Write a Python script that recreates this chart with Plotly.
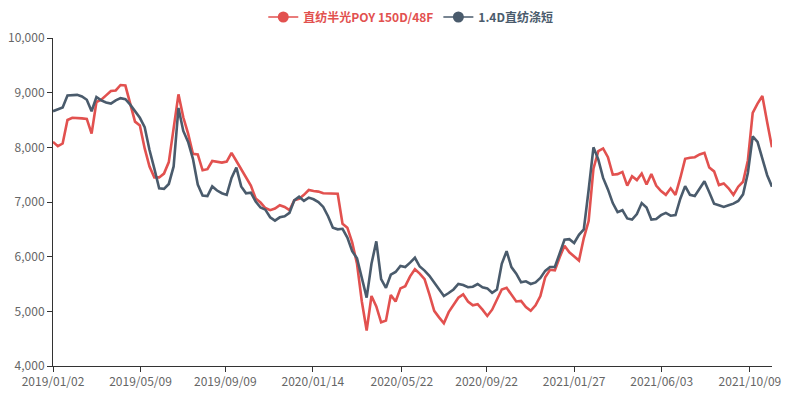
import pandas as pd
import plotly.graph_objects as go

# Category dates (weekly samples from 2019/01/02)
dates = pd.date_range(start="2019-01-02", periods=150, freq="7D").strftime("%Y-%m-%d").tolist()

series_poy_name = "直纺半光POY 150D/48F"
series_psf_name = "1.4D直纺涤短"

poy_values = [
    8100, 8020, 8070, 8500, 8540, 8540, 8530, 8520, 8250, 8830,
    8870, 8950, 9030, 9040, 9140, 9130, 8800, 8470, 8400, 7980,
    7650, 7450, 7450, 7520, 7730, 8400, 8970, 8550, 8250, 7880,
    7870, 7580, 7600, 7750, 7740, 7720, 7740, 7900, 7750, 7600,
    7440, 7300, 7065, 6990, 6890, 6850, 6880, 6940, 6910, 6850,
    7030, 7060, 7130, 7220, 7200, 7190, 7160, 7160, 7160, 7150,
    6600, 6530, 6260, 5870, 5180, 4650, 5280, 5090, 4800, 4830,
    5300, 5180, 5420, 5460, 5640, 5770, 5690, 5590, 5310, 5010,
    4890, 4780, 4985, 5110, 5250, 5310, 5180, 5110, 5130, 5030,
    4915, 5030, 5215, 5400, 5430, 5310, 5180, 5190, 5080, 5010,
    5110, 5280, 5625, 5760, 5750, 5990, 6200, 6080, 6000, 5930,
    6340, 6650, 7610, 7930, 7980, 7820, 7500, 7510, 7550, 7300,
    7470, 7400, 7520, 7320, 7510, 7300, 7200, 7130, 7250, 7130,
    7440, 7790, 7810, 7820, 7870, 7900, 7630, 7560, 7310, 7340,
    7250, 7130, 7280, 7370, 7760, 8630, 8800, 8940, 8460, 8000,
]

psf_values = [
    8660, 8700, 8730, 8950, 8960, 8960, 8930, 8870, 8660, 8920,
    8860, 8820, 8800, 8860, 8900, 8880, 8780, 8660, 8540, 8370,
    7950, 7610, 7250, 7240, 7330, 7650, 8720, 8300, 8100, 7790,
    7320, 7120, 7110, 7285, 7210, 7160, 7130, 7440, 7630, 7285,
    7160, 7170, 7010, 6900, 6860, 6720, 6660, 6720, 6740, 6800,
    7030, 7096, 7020, 7080, 7050, 7000, 6910, 6740, 6530, 6500,
    6510, 6350, 6100, 5970, 5620, 5250, 5870, 6280, 5590, 5430,
    5670, 5720, 5830, 5810, 5890, 5980, 5820, 5745, 5650, 5525,
    5400, 5280, 5335, 5400, 5500, 5480, 5440, 5450, 5500, 5440,
    5420, 5340, 5400, 5870, 6100, 5810, 5690, 5530, 5550, 5500,
    5530, 5610, 5740, 5810, 5810, 6050, 6310, 6320, 6250, 6400,
    6500, 7220, 8000, 7780, 7440, 7230, 6980, 6815, 6850, 6700,
    6680, 6780, 6980, 6900, 6680, 6690, 6760, 6800, 6750, 6760,
    7060, 7290, 7130, 7110, 7240, 7380, 7180, 6970, 6940, 6910,
    6940, 6970, 7020, 7140, 7530, 8200, 8100, 7800, 7490, 7280,
]

tick_dates = ["2019-01-02", "2019-05-09", "2019-09-09", "2020-01-14", "2020-05-22",
              "2020-09-22", "2021-01-27", "2021-06-03", "2021-10-09"]
tick_labels = [d.replace("-", "/") for d in tick_dates]
y_ticks = [4000, 5000, 6000, 7000, 8000, 9000, 10000]

RED = "#e2514f"
DARK = "#4a5b6c"
FONT = "Microsoft YaHei, Noto Sans CJK SC, sans-serif"

fig = go.Figure()
fig.add_trace(go.Scatter(x=dates, y=poy_values, mode="lines", showlegend=False,
                         line=dict(color=RED, width=2.6), name=series_poy_name))
fig.add_trace(go.Scatter(x=dates, y=psf_values, mode="lines", showlegend=False,
                         line=dict(color=DARK, width=2.6), name=series_psf_name))
# legend entries (line + circle symbol)
fig.add_trace(go.Scatter(x=[None], y=[None], mode="lines+markers",
                         name=f"<b><span style='color:{RED}'>{series_poy_name}</span></b>",
                         line=dict(color=RED, width=1.5), marker=dict(size=11, color=RED)))
fig.add_trace(go.Scatter(x=[None], y=[None], mode="lines+markers",
                         name=f"<b><span style='color:{DARK}'>{series_psf_name}</span></b>",
                         line=dict(color=DARK, width=1.5), marker=dict(size=11, color=DARK)))

# the page body has an 8px margin, so the figure is sized/margined to compensate
fig.update_layout(
    width=796, height=388,
    margin=dict(l=45, r=32, t=30, b=30, autoexpand=False),
    paper_bgcolor="white", plot_bgcolor="white",
    font=dict(family=FONT, size=12, color="#666"),
    legend=dict(orientation="h", xref="container", yref="container",
                x=0.506, xanchor="center", y=1 - 9 / 388, yanchor="middle",
                font=dict(size=12), itemwidth=30, bgcolor="rgba(0,0,0,0)"),
    xaxis=dict(type="date", range=[dates[0], dates[-1]], tickvals=tick_dates, ticktext=tick_labels,
               showgrid=False, showline=True, linecolor="#333", linewidth=1,
               ticks="outside", ticklen=5, tickcolor="#333", zeroline=False, automargin=False,
               tickfont=dict(size=12, color="#666")),
    yaxis=dict(range=[4000, 10000], tickvals=y_ticks, tickformat=",d",
               showgrid=False, showline=True, linecolor="#333", linewidth=1,
               ticks="outside", ticklen=5, tickcolor="#333", zeroline=False, automargin=False,
               tickfont=dict(size=12, color="#666")),
)

fig.write_html("out.html")
